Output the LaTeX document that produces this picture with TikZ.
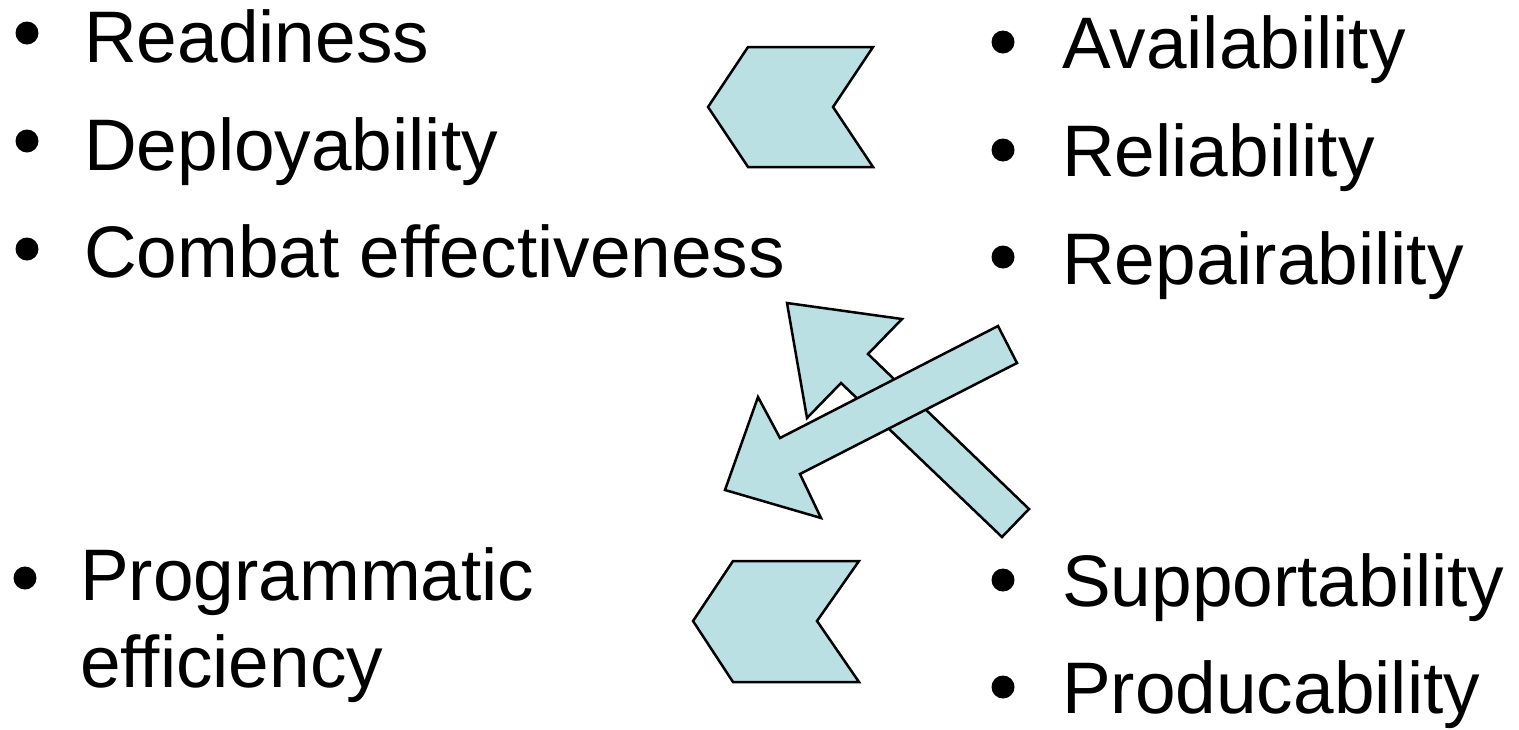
\documentclass[tikz,border=0pt]{standalone}
\usepackage{fontspec}
\setsansfont{Liberation Sans}[Ligatures=NoCommon]
\definecolor{arrowfill}{RGB}{187,224,227}

\begin{document}
\begin{tikzpicture}[
    x=1pt, y=-1pt, font={\sffamily\fontsize{73}{87}\selectfont},
    item/.style={
      anchor=base west,
      inner sep=0pt
    },
    dot/.style={
      circle,
      fill=black,
      inner sep=0pt,
      minimum size=23pt
    },
    blockarrow/.style={
      draw=black,
      fill=arrowfill,
      line width=2.5pt,
      line join=miter
    }
  ]
  \useasboundingbox (0,0) rectangle (1519,729);

  % top left list
  \node[dot] (dRead) at (27,33) {};
  \node[dot] (dDepl) at (27,141) {};
  \node[dot] (dComb) at (27,249) {};
  \node[item] (tRead) at (84,62) {Readiness};
  \node[item] (tDepl) at (84,170) {Deployability};
  \node[item] (tComb) at (84,277) {Combat effectiveness};

  % top right list
  \node[dot] (dAvail) at (1003,42) {};
  \node[dot] (dRel) at (1003,150) {};
  \node[dot] (dRep) at (1003,257) {};
  \node[item] (tAvail) at (1062,68) {Availability};
  \node[item] (tRel) at (1062,176) {Reliability};
  \node[item] (tRep) at (1062,284) {Repairability};

  % bottom left list
  \node[dot] (dProg) at (25,578) {};
  \node[item] (tProg) at (80,600) {Programmatic};
  \node[item] (tEff) at (80,687) {efficiency};

  % bottom right list
  \node[dot] (dSupp) at (1003,580) {};
  \node[dot] (dProd) at (1003,687) {};
  \node[item] (tSupp) at (1062,606) {Supportability};
  \node[item] (tProd) at (1062,713) {Producability};

  % chevrons
  \draw[blockarrow] (708,107) -- (748,47) -- (873,47) -- (833,107)
    -- (873,167) -- (748,167) -- cycle;
  \draw[blockarrow] (693,621) -- (733,561) -- (859,561) -- (817,621)
    -- (859,682) -- (733,682) -- cycle;

  % crossing arrows
  \draw[blockarrow] (787,303) -- (902,319) -- (868,354) -- (1029,509)
    -- (1002,537) -- (841,383) -- (807,418) -- cycle;
  \draw[blockarrow] (725,490) -- (758,397) -- (780,438) -- (998,326)
    -- (1017,363) -- (800,474) -- (821,518) -- cycle;
\end{tikzpicture}
\end{document}
